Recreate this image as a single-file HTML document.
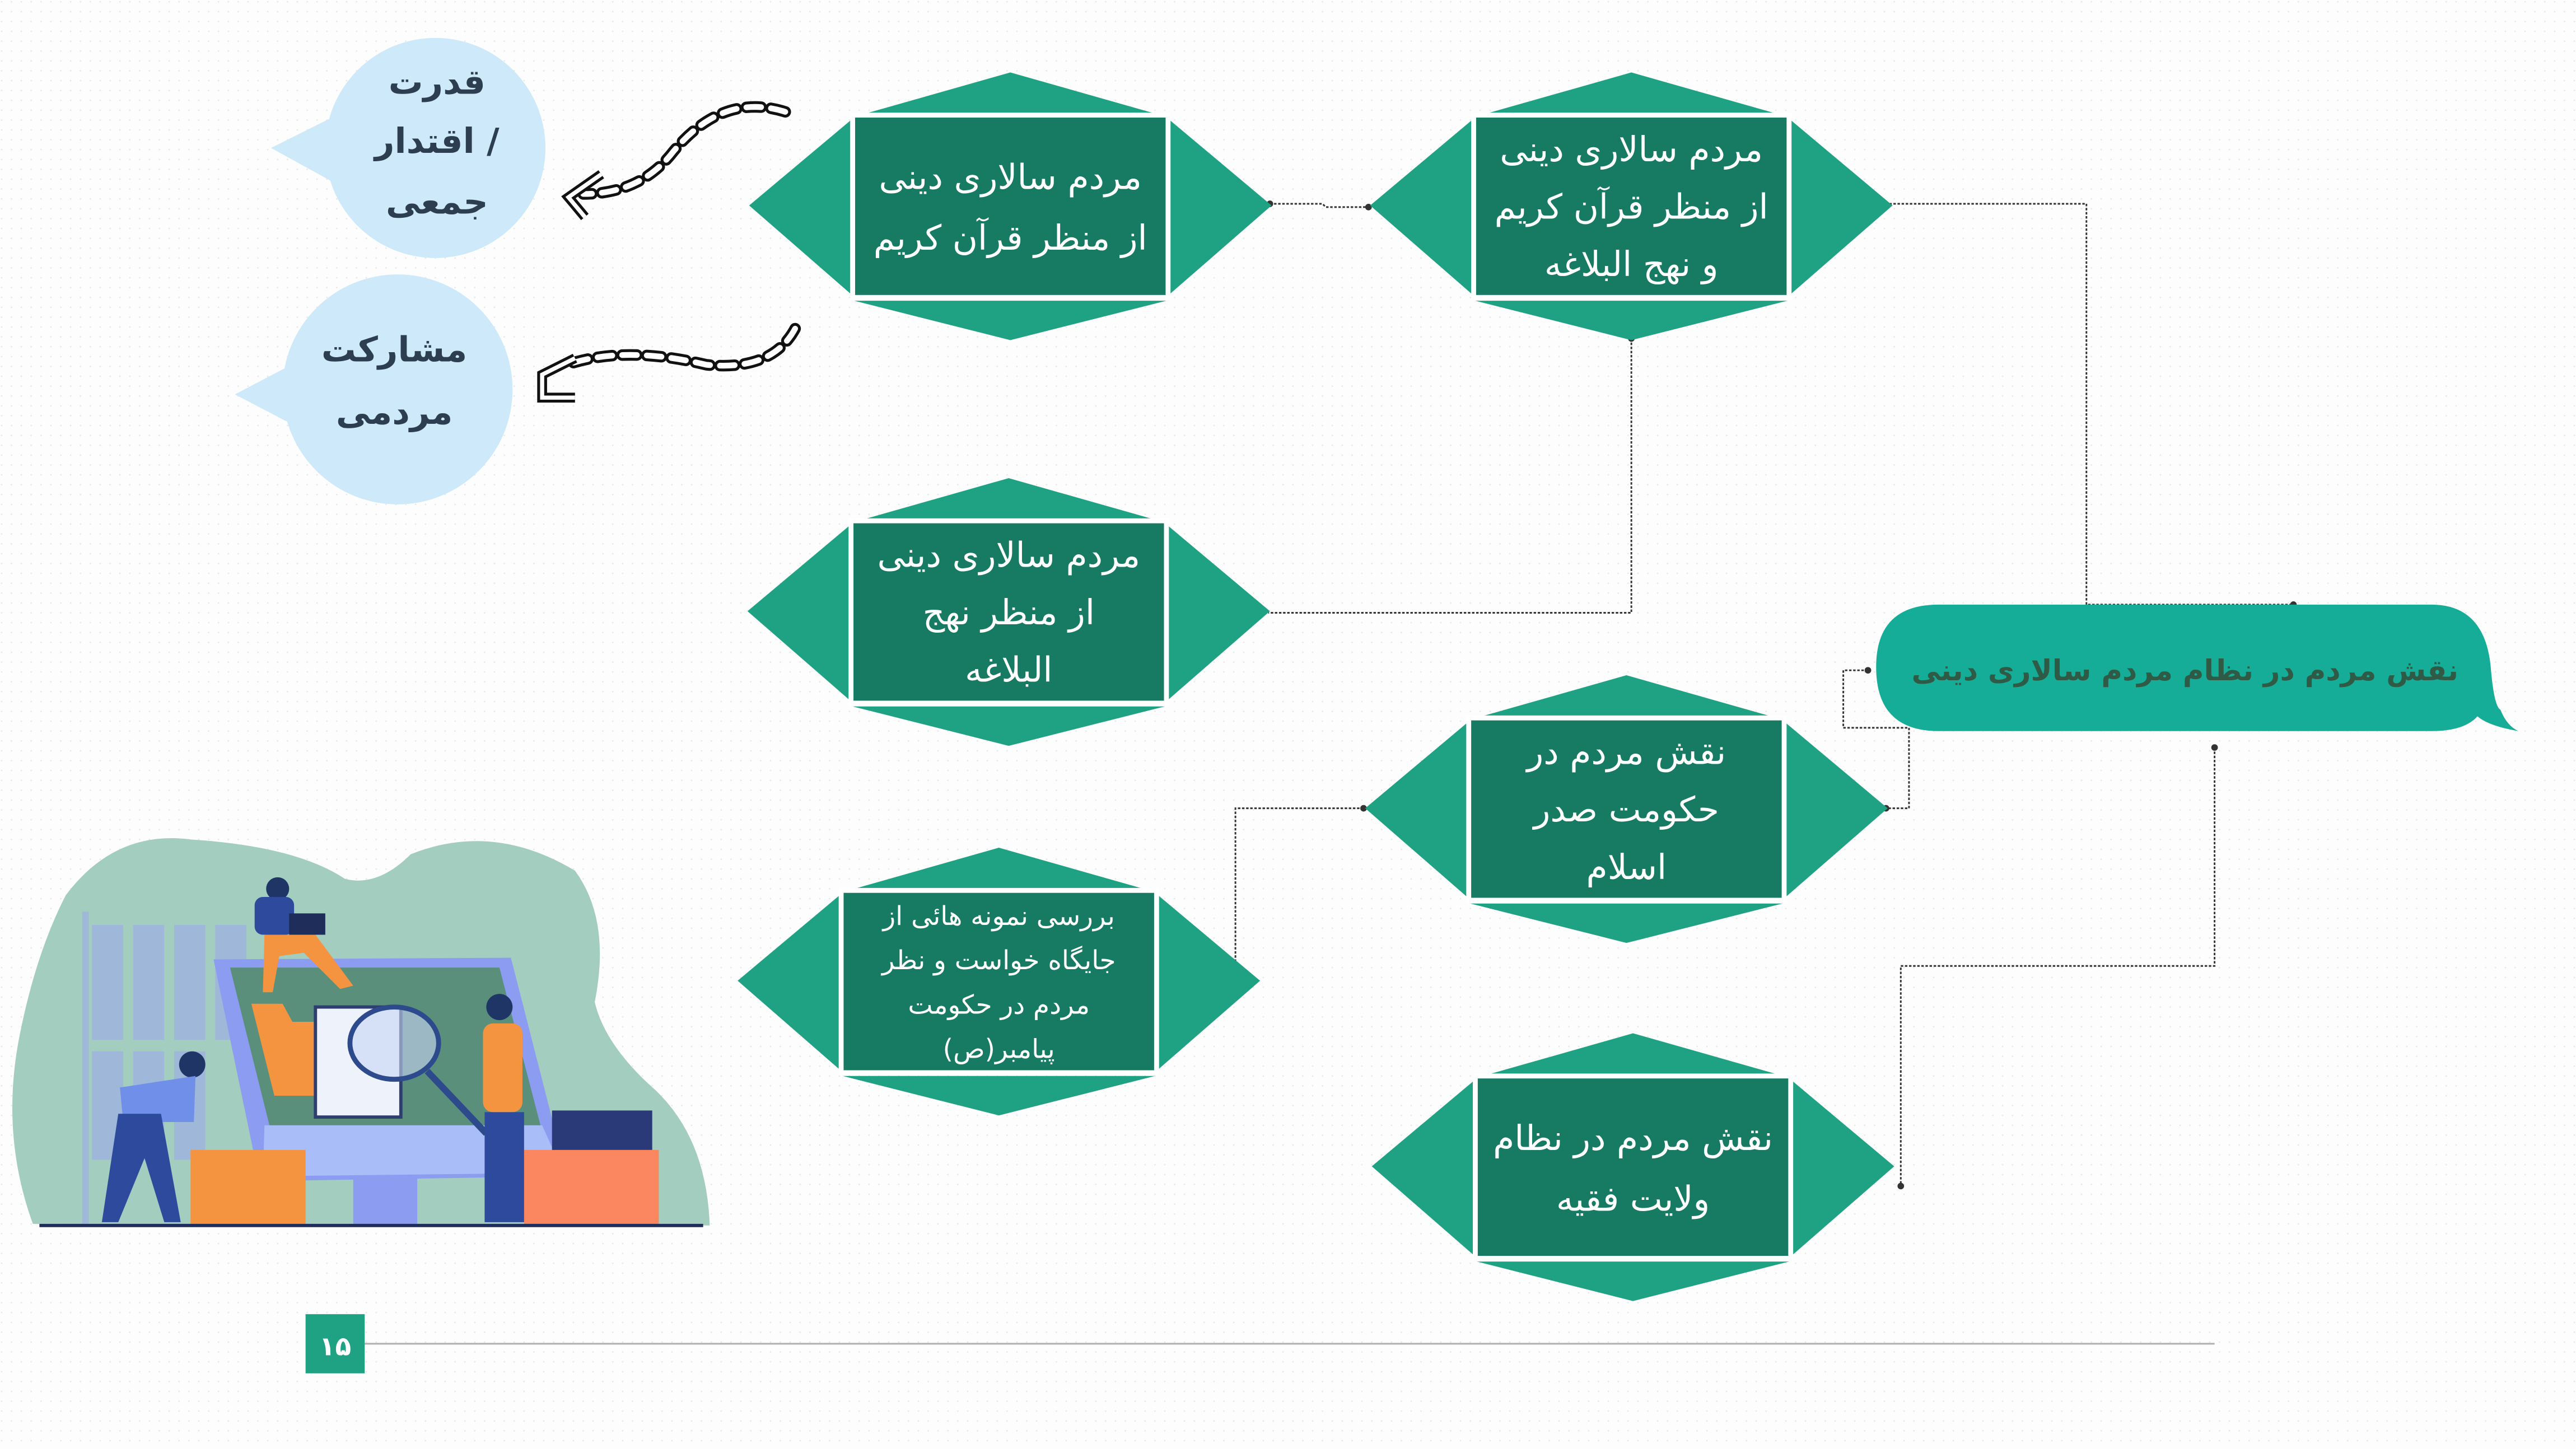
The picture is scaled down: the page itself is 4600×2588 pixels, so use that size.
<!DOCTYPE html>
<html><head><meta charset="utf-8"><style>
html,body{margin:0;padding:0;background:#fdfdfd;}
svg{display:block;}
text{font-family:"DejaVu Sans",sans-serif;}
</style></head><body>
<svg width="4600" height="2588" viewBox="0 0 1568 882" xmlns="http://www.w3.org/2000/svg">
<defs>
<pattern id="dots" width="6" height="6" patternUnits="userSpaceOnUse"><circle cx="1" cy="1" r="0.45" fill="#e6e6e6"/></pattern>
<g id="hex">
 <polygon points="-95,-54 0,-81 95,-54" fill="#1fa283"/>
 <polygon points="-95,58 0,82 95,58" fill="#1fa283"/>
 <polygon points="-97,-52 -159,0 -97,54" fill="#1fa283"/>
 <polygon points="97,-52 159,0 97,54" fill="#1fa283"/>
 <rect x="-96" y="-55" width="192" height="111" fill="#177a62" stroke="#fff" stroke-width="3"/>
</g>
</defs>
<rect width="1568" height="882" fill="#fdfdfd"/>
<rect width="1568" height="882" fill="url(#dots)"/>

<g fill="none" stroke="#333" stroke-width="1" stroke-dasharray="1.5,1">
 <polyline points="773,124 805,124 807,126 833,126"/>
 <polyline points="1150,124 1270,124 1270,368 1396,368"/>
 <polyline points="993,206 993,373 772,373"/>
 <polyline points="1137,408 1122,408 1122,443 1162,443 1162,492 1148,492"/>
 <polyline points="830,492 752,492 752,592"/>
 <polyline points="1348,455 1348,588 1157,588 1157,722"/>
</g>
<g fill="#333">
 <circle cx="773" cy="124" r="2"/><circle cx="833" cy="126" r="2"/>
 <circle cx="993" cy="206" r="2"/><circle cx="1396" cy="368" r="2"/>
 <circle cx="1137" cy="408" r="2"/><circle cx="1148" cy="492" r="2"/>
 <circle cx="830" cy="492" r="2"/><circle cx="752" cy="592" r="2"/>
 <circle cx="1348" cy="455" r="2"/><circle cx="1157" cy="722" r="2"/>
</g>

<use href="#hex" x="615" y="125"/>
<use href="#hex" x="993" y="125"/>
<use href="#hex" x="614" y="372"/>
<use href="#hex" x="990" y="492"/>
<use href="#hex" x="608" y="597"/>
<use href="#hex" x="994" y="710"/>

<g fill="#fff" font-size="21" text-anchor="middle" direction="rtl">
 <text x="615" y="115">مردم سالاری دینی</text>
 <text x="615" y="152">از منظر قرآن کریم</text>
 <text x="993" y="98">مردم سالاری دینی</text>
 <text x="993" y="133">از منظر قرآن کریم</text>
 <text x="993" y="168">و نهج البلاغه</text>
 <text x="614" y="345">مردم سالاری دینی</text>
 <text x="614" y="380">از منظر نهج</text>
 <text x="614" y="415">البلاغه</text>
 <text x="990" y="465">نقش مردم در</text>
 <text x="990" y="500">حکومت صدر</text>
 <text x="990" y="535">اسلام</text>
 <text x="994" y="700">نقش مردم در نظام</text>
 <text x="994" y="737">ولایت فقیه</text>
</g>
<g fill="#fff" font-size="16" text-anchor="middle" direction="rtl">
 <text x="608" y="563">بررسی نمونه هائی از</text>
 <text x="608" y="590">جایگاه خواست و نظر</text>
 <text x="608" y="617">مردم در حکومت</text>
 <text x="608" y="644">پیامبر(ص)</text>
</g>

<path d="M1180,368 L1480,368 Q1512,368 1516,405 Q1518,430 1522,432 Q1526,442 1533,445 Q1515,442 1508,436 Q1500,445 1480,445 L1180,445 Q1142,445 1142,406 Q1142,368 1180,368 Z" fill="#16ad98"/>
<text x="1330" y="414" font-size="17.5" font-weight="bold" fill="#2f5a46" text-anchor="middle" direction="rtl">نقش مردم در نظام مردم سالاری دینی</text>

<ellipse cx="265" cy="90" rx="67" ry="67" fill="#cde9fa"/>
<polygon points="165,90 205,70 205,112" fill="#cde9fa"/>
<ellipse cx="242" cy="237" rx="70" ry="70" fill="#cde9fa"/>
<polygon points="143,240 185,218 185,262" fill="#cde9fa"/>
<g fill="#2d3e50" font-size="21" font-weight="bold" text-anchor="middle" direction="rtl">
 <text x="266" y="57">قدرت</text>
 <text x="266" y="93">/ اقتدار</text>
 <text x="266" y="130">جمعی</text>
 <text x="240" y="220">مشارکت</text>
 <text x="240" y="258">مردمی</text>
</g>

<g fill="none" stroke-linecap="round">
 <path d="M478,68 Q440,56 410,92 Q390,118 355,118" stroke="#111" stroke-width="7" stroke-dasharray="9,6"/>
 <path d="M478,68 Q440,56 410,92 Q390,118 355,118" stroke="#fff" stroke-width="3.5" stroke-dasharray="9,6"/>
 <path d="M484,200 Q470,226 430,222 Q380,210 345,222" stroke="#111" stroke-width="7" stroke-dasharray="9,6"/>
 <path d="M484,200 Q470,226 430,222 Q380,210 345,222" stroke="#fff" stroke-width="3.5" stroke-dasharray="9,6"/>
</g>
<path d="M366,106 L346,120 L356,132" fill="none" stroke="#111" stroke-width="6"/>
<path d="M366,106 L346,120 L356,132" fill="none" stroke="#fff" stroke-width="2.5"/>
<path d="M350,218 L330,228 L330,242 L350,242" fill="none" stroke="#111" stroke-width="6"/>
<path d="M350,218 L330,228 L330,242 L350,242" fill="none" stroke="#fff" stroke-width="2.5"/>

<path d="M20,745 Q0,690 12,630 Q22,580 40,545 Q70,505 116,511 Q180,515 210,535 Q230,540 250,520 Q300,500 350,530 Q372,560 362,610 Q368,635 395,660 Q430,690 432,746 Z" fill="#a3cdbf"/>
<g fill="#9fb7d8">
 <rect x="56" y="563" width="19" height="70"/><rect x="81" y="563" width="19" height="70"/><rect x="106" y="563" width="19" height="70"/><rect x="131" y="563" width="19" height="70"/>
 <rect x="56" y="640" width="19" height="66"/><rect x="81" y="640" width="19" height="66"/><rect x="106" y="640" width="19" height="66"/>
 <rect x="50" y="555" width="4" height="190"/>
</g>
<polygon points="130,584 311,583 345,716 158,719" fill="#8c9cf0"/>
<polygon points="140,589 304,589 329,685 164,685" fill="#5a8f7c"/>
<polygon points="161,685 330,685 343,714 160,716" fill="#a9bdf9"/>
<rect x="215" y="716" width="39" height="30" fill="#8c9cf0"/>
<polygon points="153,611 172,611 178,622 195,622 195,667 167,667" fill="#f49440"/>
<rect x="192" y="613" width="52" height="67" fill="#eef2fb" stroke="#2d3e6f" stroke-width="2"/>
<ellipse cx="240" cy="635" rx="27" ry="22" fill="#c7d4f5" fill-opacity="0.6" stroke="#2d4a8c" stroke-width="3"/>
<line x1="260" y1="652" x2="296" y2="690" stroke="#2d4a8c" stroke-width="4"/>
<rect x="116" y="700" width="70" height="46" fill="#f49440"/>
<rect x="319" y="700" width="82" height="46" fill="#fa8760"/>
<rect x="336" y="676" width="61" height="24" fill="#2a3a78"/>
<circle cx="304" cy="613" r="8" fill="#1e3566"/>
<rect x="294" y="623" width="24" height="54" rx="6" fill="#f49440"/>
<rect x="295" y="677" width="24" height="67" fill="#2d4a9c"/>
<circle cx="169" cy="541" r="7" fill="#1e3566"/>
<rect x="155" y="546" width="24" height="23" rx="5" fill="#2d4a9c"/>
<rect x="176" y="556" width="22" height="13" fill="#1e2d5a"/>
<polygon points="161,569 192,569 215,600 207,602 185,580 170,582 166,604 160,604" fill="#f49440"/>
<circle cx="117" cy="648" r="8" fill="#1e3566"/>
<polygon points="73,662 119,655 118,683 75,683" fill="#6f8fe8"/>
<polygon points="72,678 98,678 110,744 100,744 88,705 72,744 62,744" fill="#2d4a9c"/>
<line x1="24" y1="746" x2="428" y2="746" stroke="#1e2d5a" stroke-width="2"/>

<line x1="222" y1="818" x2="1348" y2="818" stroke="#b0b0b0" stroke-width="1"/>
<rect x="186" y="800" width="36" height="36" fill="#1fa283"/>
<text x="204" y="825" font-size="16" font-weight="bold" fill="#fff" text-anchor="middle">۱۵</text>
</svg>
</body></html>
